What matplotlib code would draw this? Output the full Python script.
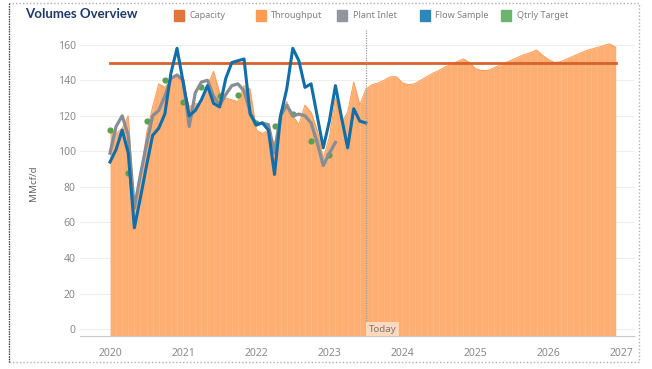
import numpy as np
import matplotlib.pyplot as plt
from matplotlib.patches import Rectangle

# monthly values, Jan 2020 .. Dec 2026
throughput = [112, 110, 113, 120, 66, 85, 110, 125, 138, 136, 140, 142,
              139, 125, 127, 126, 137, 145, 133, 130, 129, 128, 137, 135,
              112, 110, 112, 104, 123, 128, 120, 115, 126, 122, 112, 96,
              108, 130, 116, 122, 139, 126,
              135, 137.5, 138.5, 140, 142, 142, 138.5, 137.5, 138, 140, 142, 144,
              145.5, 147.5, 149, 150.5, 152, 150, 146.5, 145.5, 145.5, 147, 148.5, 150,
              151.5, 153, 154.5, 155.5, 157, 154, 151.5, 150, 150.5, 152, 153.5, 155,
              156.5, 157.5, 158.5, 159.5, 160.5, 158.5]
capacity = [150] * len(throughput)

# Jan 2020 .. Jul 2023
flow_sample = [94, 101, 112, 99, 57, 74, 92, 109, 113, 121, 144, 158,
               139, 120, 123, 129, 137, 127, 125, 141, 150, 151, 152, 121,
               115, 116, 112, 87, 120, 135, 158, 151, 136, 138, 120, 102,
               117, 137, 119, 102, 124, 117, 116]

# Jan 2020 .. Feb 2023
plant_inlet = [99, 114, 120, 109, 68, 87, 104, 120, 123, 131, 141, 143,
               140, 114, 133, 139, 140, 131, 126, 132, 137, 138, 134, 122,
               115, 116, 115, 99, 120, 126, 120, 121, 120, 116, 105, 92,
               99, 105]

# one value per quarter, Q1 2020 .. Q1 2023
qtrly_target = [112, 88, 117, 140, 128, 136, 131, 132, 116, 114, 121, 106, 98]

legend_labels = ["Capacity", "Throughput", "Plant Inlet", "Flow Sample", "Qtrly Target"]
legend_colors = ["#e0763a", "#fe9d52", "#8f969d", "#2a88ba", "#6db46f"]

today = 2023.5

c_cap = "#d9612b"
c_thr = "#fdae72"
c_inlet = "#878d95"
c_flow = "#106ea8"
c_target = "#59a14f"
grey = "#8a8a8a"

plt.rcParams["font.family"] = ["Noto Sans", "DejaVu Sans"]

W, H = 652, 369
fig = plt.figure(figsize=(W / 100, H / 100), dpi=100)
ax = fig.add_axes([80 / W, 33 / H, 555 / W, 306 / H])

x_thr = 2020 + np.arange(len(throughput)) / 12
x_flow = 2020 + np.arange(len(flow_sample)) / 12
x_inlet = 2020 + np.arange(len(plant_inlet)) / 12
x_target = 2020 + np.arange(len(qtrly_target)) * 3 / 12

ybot = -3.9
ax.fill_between(x_thr, ybot, throughput, color=c_thr, lw=0, zorder=1)
ax.plot(x_thr, throughput, color="#fd9f5a", lw=0.8, zorder=1)
ax.vlines(x_thr, ybot, throughput, color="white", lw=0.6, alpha=0.12, zorder=1.5)

ax.plot(x_thr, capacity, color=c_cap, lw=2.0, zorder=3)
ax.scatter(x_target, qtrly_target, s=20, color=c_target, lw=0, zorder=2)
ax.plot(x_inlet, plant_inlet, color=c_inlet, lw=2.3, zorder=4)
ax.plot(x_flow, flow_sample, color=c_flow, lw=2.2, zorder=5)

ax.axvline(today, color="#9a9a9a", lw=0.9, ls=(0, (1, 1)), zorder=6)
ax.text(today + 0.04, 0, "Today", fontsize=7, color="#777777", va="center", ha="left",
        bbox=dict(boxstyle="square,pad=0.25", fc="#fcd9bd", ec="none"), zorder=7)

ax.set_xlim(2019.59, 2027.18)
ax.set_ylim(ybot, 168.3)
ax.set_yticks(range(0, 161, 20))
ax.set_xticks(range(2020, 2028))
ax.grid(axis="y", color="#eeeeee", lw=0.8)
ax.set_axisbelow(True)
for s in ["top", "right", "left"]:
    ax.spines[s].set_visible(False)
ax.spines["bottom"].set_color("#c8c8c8")
ax.spines["bottom"].set_linestyle((0, (1, 1)))
ax.tick_params(axis="both", length=0, labelsize=7.5, labelcolor=grey)
ax.tick_params(axis="x", pad=9)
ax.tick_params(axis="y", pad=3)
ax.set_ylabel("MMcf/d", fontsize=7, color="#666666", labelpad=14)

fig.text(25 / W, 1 - 14 / H, "Volumes Overview", fontsize=9.5, fontweight="bold",
         family=["Lato", "DejaVu Sans"], color="#1e3a66", va="center", ha="left")

# hand-placed legend row, as in the dashboard header
x0 = 173.5
for i, (lab, col) in enumerate(zip(legend_labels, legend_colors)):
    xl = x0 + i * 82
    fig.patches.append(Rectangle((xl / W, 1 - 21 / H), 10 / W, 11 / H,
                                 transform=fig.transFigure, color=col))
    fig.text((xl + 15.5) / W, 1 - 15.5 / H, lab, fontsize=6.5, color="#808080",
             va="center", ha="left")

fig.patches.append(Rectangle((9 / W, 7 / H), 630 / W, 359 / H, transform=fig.transFigure,
                             fill=False, ec="#b0b0b0", lw=1.0, ls=(0, (1, 1.5))))
fig.add_artist(plt.Line2D([9 / W, 9 / W], [7 / H, 366 / H], transform=fig.transFigure,
                          color="#333333", lw=0.9, ls=(0, (1, 1))))

fig.savefig("out.png", dpi=100)
